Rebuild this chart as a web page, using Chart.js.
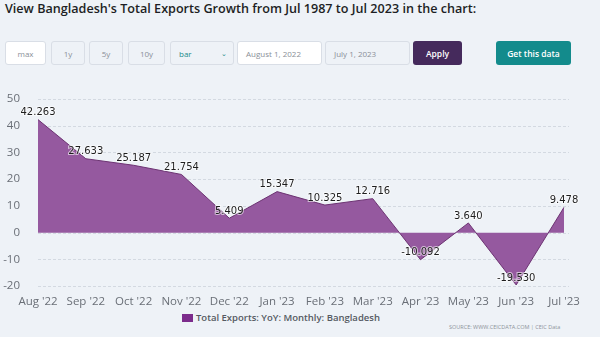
<!DOCTYPE html>
<html>
<head>
<meta charset="utf-8">
<script src="https://cdn.jsdelivr.net/npm/chart.js@4.4.0/dist/chart.umd.min.js"></script>
<style>
  body { margin: 0; width: 600px; height: 337px; background: #eef2f7; font-family: "Open Sans", sans-serif; overflow: hidden; position: relative; }
  .title { position: absolute; left: 5px; top: 0px; font-size: 12.6px; font-weight: 600; color: #1d1f24; white-space: nowrap; }
  .ctl { position: absolute; top: 41px; height: 24px; box-sizing: border-box; border: 1px solid #d9dee6; border-radius: 3px; background: #eef2f7; font-size: 8px; color: #8a8f98; display: flex; align-items: center; justify-content: center; }
  .ctl.white { background: #fff; }
  .ctl.left { justify-content: flex-start; padding-left: 8px; }
  .btn { border: none; color: #fff; font-weight: 600; font-size: 8.5px; }
  #chart-wrap { position: absolute; left: 0; top: 82px; width: 600px; height: 228px; }
  .legend { position: absolute; left: 182px; top: 311px; font-size: 9.5px; font-weight: 600; color: #555a62; display: flex; align-items: center; }
  .legend i { display: inline-block; width: 11px; height: 8px; background: #7c2c8c; margin-right: 3px; }
  .source { position: absolute; left: 449px; top: 323px; font-size: 5.5px; color: #8d929a; }
</style>
</head>
<body>
<div class="title">View Bangladesh's Total Exports Growth from Jul 1987 to Jul 2023 in the chart:</div>

<div class="ctl white" style="left:5px;width:41px">max</div>
<div class="ctl" style="left:51px;width:34px">1y</div>
<div class="ctl" style="left:89px;width:34px">5y</div>
<div class="ctl" style="left:128px;width:37px">10y</div>
<div class="ctl left" style="left:170px;width:64px;color:#1b8a8a">bar<span style="position:absolute;right:6px;font-size:7px">&#8964;</span></div>
<div class="ctl white left" style="left:237px;width:85px">August 1, 2022</div>
<div class="ctl left" style="left:325px;width:85px">July 1, 2023</div>
<div class="ctl btn" style="left:413px;width:49px;background:#452a5c">Apply</div>
<div class="ctl btn" style="left:496px;width:75px;background:#138b8c">Get this data</div>

<div id="chart-wrap"><canvas id="chart-exports"></canvas></div>

<div class="legend"><i></i>Total Exports: YoY: Monthly: Bangladesh</div>
<div class="source">SOURCE: WWW.CEICDATA.COM | CEIC Data</div>

<script>
// Total exports, YoY growth (%), monthly
const months = ["Aug '22", "Sep '22", "Oct '22", "Nov '22", "Dec '22", "Jan '23",
                "Feb '23", "Mar '23", "Apr '23", "May '23", "Jun '23", "Jul '23"];
const yoyGrowth = [42.263, 27.633, 25.187, 21.754, 5.409, 15.347,
                   10.325, 12.716, -10.092, 3.640, -19.530, 9.478];
const yTicks = [50, 40, 30, 20, 10, 0, -10, -20];

// value labels above every point
const pointLabels = {
  id: 'pointLabels',
  afterDatasetsDraw(chart) {
    const ctx = chart.ctx;
    const meta = chart.getDatasetMeta(0);
    ctx.save();
    ctx.font = '10px "DejaVu Sans", sans-serif';
    ctx.textAlign = 'center';
    ctx.textBaseline = 'bottom';
    meta.data.forEach((pt, i) => {
      const txt = yoyGrowth[i].toFixed(3);
      const y = pt.y - 2;
      ctx.lineWidth = 2;
      ctx.strokeStyle = 'rgba(255,255,255,0.6)';
      ctx.strokeText(txt, pt.x, y);
      ctx.fillStyle = '#1e1e1e';
      ctx.fillText(txt, pt.x, y);
    });
    ctx.restore();
  }
};

// dashed horizontal grid, running a little past the last point
const dashedGrid = {
  id: 'dashedGrid',
  beforeDatasetsDraw(chart) {
    const { ctx, chartArea, scales: { y } } = chart;
    ctx.save();
    ctx.strokeStyle = '#d3d9e1';
    ctx.lineWidth = 1;
    ctx.setLineDash([3, 2]);
    yTicks.forEach(v => {
      const py = Math.round(y.getPixelForValue(v)) + 0.5;
      ctx.beginPath();
      ctx.moveTo(chartArea.left, py);
      ctx.lineTo(chartArea.right + 5, py);
      ctx.stroke();
    });
    ctx.restore();
  }
};

const ctx = document.getElementById('chart-exports');
new Chart(ctx, {
  type: 'line',
  data: {
    labels: months,
    datasets: [{
      label: 'Total Exports: YoY: Monthly: Bangladesh',
      data: yoyGrowth,
      fill: 'origin',
      backgroundColor: '#95599f',
      borderColor: '#6d3473',
      borderWidth: 1,
      pointRadius: 0,
      tension: 0
    }]
  },
  options: {
    responsive: true, maintainAspectRatio: false, animation: false,
    layout: { padding: { top: 14, right: 36, left: 0, bottom: 0 } },
    plugins: { legend: { display: false }, tooltip: { enabled: false } },
    scales: {
      x: {
        offset: false,
        grid: { display: false },
        border: { display: false },
        ticks: { color: '#6a6f77', font: { size: 11.5, family: '"Open Sans", sans-serif' }, maxRotation: 0, autoSkip: false, padding: 1 }
      },
      y: {
        min: -20, max: 50,
        afterFit: s => { s.width = 38; },
        afterBuildTicks: s => { s.ticks = yTicks.map(v => ({ value: v })); },
        grid: { display: false },
        border: { display: false },
        ticks: { color: '#6a6f77', font: { size: 11.5, family: '"Open Sans", sans-serif' }, padding: 10 }
      }
    }
  },
  plugins: [dashedGrid, pointLabels]
});
</script>
</body>
</html>
